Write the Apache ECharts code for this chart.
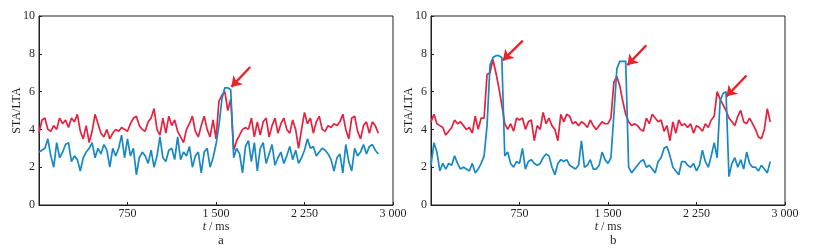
<!DOCTYPE html>
<html>
<head>
<meta charset="utf-8">
<script src="https://cdn.jsdelivr.net/npm/echarts@6/dist/echarts.min.js"></script>
<style>
  html, body { margin: 0; padding: 0; background: #fff; }
  #chart { width: 818px; height: 249px; }
</style>
</head>
<body>
<div id="chart"></div>
<script>
// sample step in ms
const step = 25;

// panel a
const redA = [
  3.8, 4.5, 4.6, 4.0, 3.9, 4.2, 4.0, 4.6, 4.3, 4.5,
  4.1, 4.6, 4.4, 4.8, 3.9, 3.5, 4.2, 3.3, 3.9, 4.8,
  4.3, 3.8, 3.6, 4.0, 3.5, 3.8, 4.0, 3.9, 4.1, 4.0,
  3.9, 4.3, 4.6, 4.7, 4.2, 4.0, 3.9, 4.4, 4.6, 5.1,
  4.0, 3.7, 4.6, 3.8, 4.7, 4.2, 4.5, 3.9, 3.6, 3.3,
  4.0, 4.3, 4.7, 3.9, 3.6, 4.2, 4.7, 4.0, 3.6, 4.5,
  3.5, 5.5, 5.8, 6.0, 5.0, 5.6, 2.9, 3.4, 3.7, 4.0,
  4.1, 4.0, 4.6, 3.6, 4.4, 3.7, 4.4, 4.6, 3.6, 4.2,
  4.6, 3.8, 4.3, 4.6, 4.0, 3.8, 4.5, 4.0, 3.0, 4.0,
  4.9, 4.3, 4.6, 3.8, 4.4, 4.7, 4.0, 3.9, 4.2, 4.1,
  4.3, 4.2, 4.4, 4.8, 4.0, 3.5, 4.6, 4.7, 3.9, 3.5,
  4.2, 4.4, 3.8, 4.4, 4.2, 3.8
];
const blueA = [
  2.8, 2.9, 3.0, 3.5, 2.6, 2.0, 3.3, 2.5, 2.8, 3.2,
  3.3, 2.3, 2.6, 2.4, 1.8, 2.5, 2.8, 3.0, 3.3, 2.5,
  3.0, 2.7, 3.2, 2.9, 2.0, 3.0, 2.6, 3.0, 3.7, 2.5,
  3.5, 2.6, 3.0, 1.6, 2.5, 2.8, 2.6, 2.2, 2.9, 2.0,
  2.6, 3.6, 2.5, 2.3, 2.9, 3.0, 2.4, 3.6, 2.4, 2.8,
  2.6, 3.1, 2.0, 2.6, 2.8, 1.7, 2.8, 3.0, 2.0, 2.5,
  3.2, 4.2, 5.6, 6.2, 6.2, 6.1, 2.5, 3.0, 2.7, 1.7,
  3.1, 3.4, 2.3, 3.3, 1.8, 3.0, 3.3, 2.2, 2.7, 3.2,
  2.1, 2.5, 2.8, 2.2, 2.6, 3.1, 2.4, 2.9, 2.2, 2.5,
  2.9, 3.5, 3.0, 3.1, 2.6, 2.8, 3.0, 2.9, 2.7, 2.4,
  1.8, 2.5, 2.7, 1.7, 3.2, 2.3, 1.8, 3.0, 2.6, 2.8,
  3.2, 2.7, 3.1, 3.2, 2.9, 2.7
];

// panel b
const redB = [
  4.4, 4.8, 4.3, 4.2, 4.1, 3.7, 3.9, 4.1, 4.5, 4.3,
  4.4, 4.2, 4.0, 4.1, 3.8, 4.7, 4.0, 4.6, 4.6, 6.9,
  7.0, 7.7, 7.0, 6.2, 5.3, 4.3, 4.0, 4.3, 3.9, 4.6,
  4.5, 4.6, 4.0, 4.4, 4.5, 3.4, 4.2, 4.0, 4.9, 4.3,
  4.6, 4.2, 4.0, 3.4, 4.8, 4.4, 4.8, 4.7, 4.3, 4.4,
  4.2, 4.4, 4.3, 4.1, 4.5, 4.2, 4.0, 4.2, 4.4, 4.3,
  4.3, 4.6, 6.5, 6.8, 6.3, 5.5, 4.8, 4.4, 4.2, 4.3,
  4.2, 4.0, 3.9, 4.6, 4.3, 4.8, 4.6, 4.4, 4.5, 3.9,
  4.2, 3.4, 4.4, 3.8, 4.5, 4.2, 4.3, 4.1, 4.3, 3.8,
  4.2, 4.1, 3.9, 4.3, 4.1, 4.5, 4.7, 6.0, 5.6, 5.3,
  5.0, 4.6, 4.4, 4.2, 4.7, 5.0, 4.4, 4.3, 4.6, 4.3,
  4.0, 3.6, 3.5, 4.0, 5.1, 4.4
];
const blueB = [
  2.1, 3.3, 2.8, 1.8, 2.2, 1.9, 2.2, 2.1, 2.6, 2.2,
  1.9, 2.0, 1.9, 1.8, 2.2, 1.7, 1.9, 2.2, 2.6, 4.2,
  7.4, 7.8, 7.9, 7.9, 7.8, 2.6, 2.8, 2.2, 2.0, 2.3,
  2.2, 3.0, 1.9, 2.3, 2.4, 2.2, 2.1, 2.2, 2.5, 2.7,
  2.6, 2.0, 1.6, 2.2, 2.4, 2.3, 2.4, 2.1, 2.0, 1.9,
  2.1, 3.4, 2.0, 2.1, 2.4, 1.9, 1.9, 2.1, 2.8, 2.4,
  2.2, 2.5, 4.8, 7.2, 7.6, 7.6, 7.6, 2.0, 1.7, 1.9,
  2.1, 2.3, 2.4, 2.0, 2.1, 1.9, 1.7, 2.3, 2.5, 3.0,
  3.1, 2.6, 2.0, 1.8, 1.6, 2.3, 2.3, 2.1, 2.0, 2.2,
  1.8, 2.1, 2.9, 2.3, 2.0, 2.6, 3.3, 2.5, 5.5, 5.9,
  6.0, 1.5, 2.2, 2.5, 2.0, 2.4, 1.9, 2.8, 2.2, 2.0,
  2.0, 1.8, 2.1, 1.9, 1.7, 2.3
];

// arrows: [tailT, tailV, headT, headV]
const arrowsA = [[1790, 7.3, 1630, 6.25]];
const arrowsB = [
  [778, 8.7, 609, 7.65],
  [1825, 8.45, 1664, 7.4],
  [2674, 6.85, 2504, 5.75]
];

const panelLabels = ['a', 'b'];

const RED = '#e5213f';
const BLUE = '#1788c4';
const INK = '#231f20';
const FONT = '"Liberation Serif", "Times New Roman", serif';

const toPairs = arr => arr.map((v, i) => [i * step, v]);
const fmt = v => (v === 0 ? '' : String(v).replace(/\B(?=(\d{3})+(?!\d))/g, ' '));

const grids = [
  {left: 39, top: 16, width: 354, height: 189},
  {left: 431, top: 16, width: 354, height: 189},
];

const chart = echarts.init(document.getElementById('chart'));

const xAxis = grids.map((g, i) => ({
  type: 'value',
  gridIndex: i,
  min: 0,
  max: 3000,
  interval: 750,
  name: '{i|t} / ms',
  nameLocation: 'middle',
  nameGap: 16,
  nameMoveOverlap: false,
  nameTextStyle: {
    fontFamily: FONT, fontSize: 12, color: INK,
    rich: {i: {fontStyle: 'italic', fontFamily: FONT, fontSize: 12, color: INK}},
  },
  axisLine: {lineStyle: {color: INK, width: 1}},
  axisTick: {inside: true, length: 3, lineStyle: {color: INK}},
  axisLabel: {formatter: fmt, fontFamily: FONT, fontSize: 12, color: INK, margin: 3},
  splitLine: {show: false},
}));

const yAxis = grids.map((g, i) => ({
  type: 'value',
  gridIndex: i,
  min: 0,
  max: 10,
  interval: 2,
  name: 'STA/LTA',
  nameLocation: 'middle',
  nameGap: 16,
  nameMoveOverlap: false,
  nameTextStyle: {fontFamily: FONT, fontSize: 12, color: INK},
  axisLine: {show: true, lineStyle: {color: INK, width: 1}},
  axisTick: {show: true, inside: true, length: 3, lineStyle: {color: INK}},
  axisLabel: {fontFamily: FONT, fontSize: 12, color: INK, margin: 4},
  splitLine: {show: false},
}));

const lineSeries = (data, color, idx) => ({
  type: 'line',
  xAxisIndex: idx,
  yAxisIndex: idx,
  data: toPairs(data),
  showSymbol: false,
  lineStyle: {color: color, width: 1.7},
  itemStyle: {color: color},
  animation: false,
  z: color === RED ? 2 : 3,
});

const arrowSeries = (arrows, idx) => ({
  type: 'lines',
  coordinateSystem: 'cartesian2d',
  xAxisIndex: idx,
  yAxisIndex: idx,
  symbol: ['none', 'arrow'],
  symbolSize: 10,
  lineStyle: {color: '#e8232b', width: 2.4, opacity: 1},
  data: arrows.map(a => ({coords: [[a[0], a[1]], [a[2], a[3]]]})),
  animation: false,
  z: 5,
});

chart.setOption({
  animation: false,
  grid: grids.map(g => Object.assign({show: true, borderColor: INK, borderWidth: 1, backgroundColor: 'transparent'}, g)),
  title: grids.map((g, i) => ({
    text: panelLabels[i],
    left: g.left + g.width / 2 - 3,
    top: 229,
    textStyle: {fontFamily: FONT, fontSize: 13, fontWeight: 'normal', color: INK},
  })),
  xAxis: xAxis,
  yAxis: yAxis,
  series: [
    lineSeries(redA, RED, 0),
    lineSeries(blueA, BLUE, 0),
    arrowSeries(arrowsA, 0),
    lineSeries(redB, RED, 1),
    lineSeries(blueB, BLUE, 1),
    arrowSeries(arrowsB, 1),
  ],
});
</script>
</body>
</html>
